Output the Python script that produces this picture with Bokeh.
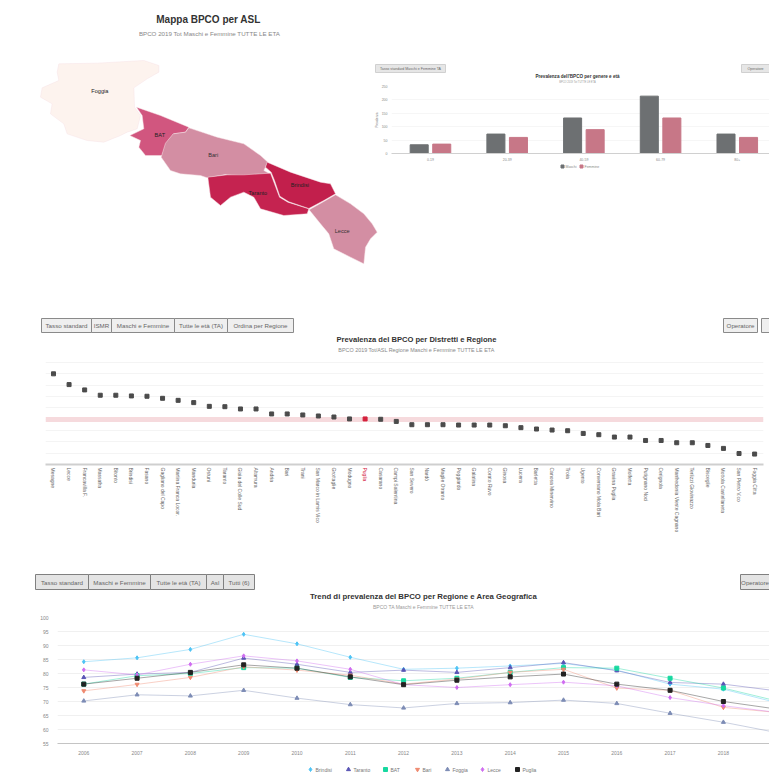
from math import pi
from bokeh.core.properties import value
from bokeh.embed import file_html
from bokeh.resources import INLINE
from bokeh.plotting import figure
from bokeh.layouts import column, row
from bokeh.models import (Range1d, FixedTicker, Span)

# ---- map data (map units, y grows downward in the source sketch) ----
asl_names = ["Foggia", "BAT", "Bari", "Taranto", "Brindisi", "Lecce"]
asl_colors = ["#fdf3ee", "#d1567f", "#d38ea3", "#c52350", "#c21f4c", "#d38ea3"]
foggia_x = [85,200,340,385,385,350,310,312,330,320,290,270,220,170,110,100,60,65,30,35,85,80]
foggia_y = [190,188,180,195,215,235,262,320,345,385,395,405,425,420,400,370,340,310,290,262,240,215]
bat_x = [318,390,475,465,430,410,395,345,325,330,298,340,335]
bat_y = [320,345,380,395,400,425,465,465,440,420,405,385,345]
bari_x = [475,560,640,690,712,700,722,650,585,530,510,450,420,392,405,428,465]
bari_y = [382,410,430,465,485,510,522,527,522,532,525,520,510,470,428,400,395]
taranto_x = [532,590,640,720,732,747,772,835,830,760,690,670,640,600,570,540]
taranto_y = [530,523,523,518,550,590,605,625,640,645,625,590,575,590,615,590]
brindisi_x = [710,780,870,900,915,880,835,775,748,732,722,705]
brindisi_y = [485,515,545,550,580,600,624,604,587,540,515,500]
lecce_x = [915,960,1000,1025,1040,1020,1005,1000,960,910,895,870,836,880]
lecce_y = [583,610,640,670,695,715,740,790,770,745,700,670,628,603]
asl_label_x = [208,388,548,682,808,935]
asl_label_y = [270,402,462,577,552,692]
asl_label_color = ["#222222","#222222","#333333","#222222","#222222","#333333"]

# ---- bars ----
age_groups = ["0-19", "20-39", "40-59", "60-79", "80+"]
bar_male = [32.5, 72.5, 132.5, 214, 72.5]
bar_female = [35, 60, 89, 132.5, 60]
bar_ticks = [0, 50, 100, 150, 200, 250]
bar_names = ["Maschi", "Femmine"]
bar_colors = ["#6d7072", "#c77787"]

# ---- districts ----
districts = ["Mesagne","Lecce","Francavilla F.","Massafra","Bitonto","Brindisi","Fasano","Gagliano del Capo",
 "Martina Franca Locor.","Manduria","Ostuni","Taranto","Gioia del Colle Sud","Altamura","Andria","Bari",
 "Trani","San Marco in Lamis Vico","Grottaglie","Modugno","Puglia","Casarano","Campi Salentina","San Severo",
 "Nardò","Maglie Otranto","Poggiardo","Galatina","Corato Ruvo","Ginosa","Lucera","Barletta","Canosa Minervino",
 "Troia","Ugento","Conversano Mola Bari","Gravina Puglia","Molfetta","Putignano Noci","Cerignola",
 "Manfredonia Vieste Cagnano","Terlizzi Giovinazzo","Bisceglie","Mottola Castellaneta","San Pietro V.co","Foggia Citta"]
district_values = [120.0,110.5,105.8,101.1,101.1,100.5,100.2,98.4,96.6,94.6,91.3,91.0,89.0,89.0,84.6,84.6,83.7,82.8,81.9,
 80.2,80.2,79.9,78.0,75.1,75.1,75.1,74.8,74.8,74.8,74.2,72.5,71.3,70.4,69.8,67.4,66.3,64.2,64.2,61.2,61.2,59.2,59.2,
 56.8,54.2,49.7,49.2]
puglia_value = 80.2
puglia_name = "Puglia"

# ---- trends ----
years = [2006,2007,2008,2009,2010,2011,2012,2013,2014,2015,2016,2017,2018,2019]
trend_ticks = [55,60,65,70,75,80,85,90,95,100]
brindisi = [84.2,85.6,88.6,94.0,90.6,85.8,81.5,81.9,82.7,83.6,81.2,76.2,74.4,69.6]
taranto = [78.6,79.8,80.4,85.5,83.3,80.4,81.2,80.4,82.1,83.9,81.0,76.8,76.2,73.8]
bat = [76.2,79.2,80.0,82.1,81.9,78.6,77.4,78.3,80.4,82.1,81.9,78.3,74.8,70.2]
bari = [73.8,76.1,78.6,82.4,81.2,79.4,76.2,78.0,80.4,81.5,74.8,74.0,67.9,66.1]
foggia = [70.2,72.4,72.0,74.0,71.2,68.9,67.7,69.3,69.6,70.5,69.3,65.8,62.6,58.9]
lecce = [81.3,79.5,83.3,86.3,84.5,81.5,76.0,75.0,76.0,76.9,75.6,71.4,68.5,66.1]
puglia = [76.2,78.3,80.4,83.1,81.9,78.8,76.0,77.6,78.8,79.8,76.2,74.0,70.0,67.3]
series_names = ["Brindisi","Taranto","BAT","Bari","Foggia","Lecce","Puglia"]
series_values = [brindisi,taranto,bat,bari,foggia,lecce,puglia]
series_colors = ["#4cc3f5","#5a55b5","#17d8a0","#ef8a70","#7d8cb5","#cf6cf0","#222222"]
series_markers = ["diamond","triangle","square","inverted_triangle","triangle","diamond","square"]

# ---- titles and buttons (page layout furniture) ----
titles = [
    (208, 19, "Mappa BPCO per ASL", 10, "#333333", "bold"),
    (209, 33, "BPCO 2019 Tot Maschi e Femmine TUTTE LE ETA", 6.2, "#888888", "normal"),
    (577, 76, "Prevalenza dell'BPCO per genere e età", 4.6, "#333333", "bold"),
    (577, 82, "BPCO 2019 Tot TUTTE LE ETA", 2.6, "#999999", "normal"),
    (416, 339, "Prevalenza del BPCO per Distretti e Regione", 7.6, "#333333", "bold"),
    (416, 349, "BPCO 2019 Tot/ASL Regione Maschi e Femmine TUTTE LE ETA", 5.4, "#888888", "normal"),
    (423, 596, "Trend di prevalenza del BPCO per Regione e Area Geografica", 7.8, "#333333", "bold"),
    (423, 606, "BPCO TA Maschi e Femmine TUTTE LE ETA", 5, "#999999", "normal"),
]
buttons = [
    (375, 445, 64, 72, "Tasso standard Maschi e Femmine TA", 3.6, "#e6e6e6", "#d0d0d0"),
    (741, 769, 64, 72, "Operatore", 3.6, "#e6e6e6", "#d0d0d0"),
    (41, 91, 318, 332, "Tasso standard", 6.2, "#efefef", "#8a8a8a"),
    (91, 111, 318, 332, "ISMR", 6.2, "#efefef", "#8a8a8a"),
    (111, 174, 318, 332, "Maschi e Femmine", 6.2, "#efefef", "#8a8a8a"),
    (174, 227, 318, 332, "Tutte le età (TA)", 6.2, "#efefef", "#8a8a8a"),
    (227, 293, 318, 332, "Ordina per Regione", 6.2, "#efefef", "#8a8a8a"),
    (723, 757, 318, 332, "Operatore", 6.2, "#efefef", "#8a8a8a"),
    (761, 769, 318, 332, "", 6.2, "#efefef", "#8a8a8a"),
    (35, 88, 574, 589, "Tasso standard", 6.2, "#e4e4e4", "#808080"),
    (88, 150, 574, 589, "Maschi e Femmine", 6.2, "#e4e4e4", "#808080"),
    (150, 206, 574, 589, "Tutte le età (TA)", 6.2, "#e4e4e4", "#808080"),
    (206, 223, 574, 589, "Asl", 6.2, "#e4e4e4", "#808080"),
    (223, 254, 574, 589, "Tutti (6)", 6.2, "#e4e4e4", "#808080"),
    (740, 769, 574, 589, "Operatore", 6.2, "#e4e4e4", "#808080"),
]
bar_legend_x = [562, 581]
bar_legend_y = 166
trend_legend_x = [310, 348, 385, 417, 447, 482, 517]
trend_legend_y = 769

FONT = "Liberation Sans"
COMMON = dict(output_backend="svg", toolbar_location=None, outline_line_color=None,
              background_fill_color=None, border_fill_color=None, frame_align=False)

# ---------------- Overlay of titles, buttons and legends, in page pixels ----------------
po = figure(width=769, height=776, x_range=Range1d(0, 769), y_range=Range1d(776, 0), min_border=0, **COMMON)
po.axis.visible = False
po.grid.visible = False
for t in titles:
    po.text([t[0]], [t[1]], text=[t[2]], text_font=value(FONT), text_font_size=f"{t[3]}px", text_color=t[4],
            text_font_style=t[5], text_align="center", text_baseline="middle")
po.quad(left=[b[0] for b in buttons], right=[b[1] for b in buttons],
        top=[b[2] for b in buttons], bottom=[b[3] for b in buttons],
        fill_color=[b[6] for b in buttons], line_color=[b[7] for b in buttons], line_width=1)
for b in buttons:
    po.text([(b[0] + b[1]) / 2], [(b[2] + b[3]) / 2], text=[b[4]], text_font=value(FONT),
            text_font_size=f"{b[5]}px", text_color="#666666", text_align="center", text_baseline="middle")
# red label of the regional dot, under its tick of the district axis
puglia_px = 53 + districts.index(puglia_name) * 15.578
po.text([puglia_px], [467], text=[puglia_name], text_font=value(FONT), text_font_size="5px",
        text_color="#d4213d", angle=-pi / 2, text_align="left", text_baseline="middle")
# legends
po.scatter(bar_legend_x, [bar_legend_y] * 2, marker="square", size=3, color=bar_colors)
po.text([x + 3 for x in bar_legend_x], [bar_legend_y] * 2, text=bar_names, text_font=value(FONT),
        text_font_size="3.5px", text_color="#888888", text_baseline="middle")
po.scatter(trend_legend_x, [trend_legend_y] * 7, marker=series_markers, size=4, color=series_colors)
po.text([x + 5 for x in trend_legend_x], [trend_legend_y] * 7, text=series_names, text_font=value(FONT),
        text_font_size="5px", text_color="#777777", text_baseline="middle")

# ---------------- Map ----------------
# map units = (page x - 30) * 3 and page y * 3
pm = figure(width=380, height=300, x_range=Range1d(-90, 1050), y_range=Range1d(900, 0), min_border=0, **COMMON)
pm.axis.visible = False
pm.grid.visible = False
pm.patches([foggia_x, bat_x, bari_x, taranto_x, brindisi_x, lecce_x],
           [foggia_y, bat_y, bari_y, taranto_y, brindisi_y, lecce_y],
           fill_color=asl_colors, line_color="#f7e3e6", line_width=0.5)
pm.text(asl_label_x, asl_label_y, text=asl_names, text_color=asl_label_color,
        text_font=value(FONT), text_font_size="5.6px", text_align="center", text_baseline="middle")

# ---------------- Bars ----------------
pb = figure(width=397, height=178, x_range=Range1d(-0.508, 4.42), y_range=Range1d(0, 250),
            min_border_left=19, min_border_right=0, min_border_top=86, min_border_bottom=25,
            margin=(0, 0, 0, -8), **COMMON)
pos = list(range(len(age_groups)))
pb.vbar([i - 0.147 for i in pos], top=bar_male, width=0.235, color=bar_colors[0])
pb.vbar([i + 0.147 for i in pos], top=bar_female, width=0.235, color=bar_colors[1])
pb.xgrid.visible = False
pb.ygrid.grid_line_color = "#f0f0f0"
pb.ygrid.grid_line_width = 0.6
pb.xaxis.ticker = FixedTicker(ticks=pos)
pb.xaxis.major_label_overrides = {i: c for i, c in enumerate(age_groups)}
pb.yaxis.ticker = FixedTicker(ticks=bar_ticks)
for ax in (pb.xaxis[0], pb.yaxis[0]):
    ax.major_tick_line_color = None
    ax.minor_tick_line_color = None
    ax.major_tick_out = 0
    ax.major_label_text_font = FONT
    ax.major_label_text_font_size = "3.5px"
    ax.major_label_text_color = "#888888"
    ax.major_label_standoff = 4
pb.yaxis.axis_line_color = None
pb.xaxis.axis_line_color = "#d0d0d0"
pb.yaxis.axis_label = "Prevalenza"
pb.yaxis.axis_label_text_font_size = "3px"
pb.yaxis.axis_label_text_font_style = "normal"
pb.yaxis.axis_label_text_color = "#888888"
pb.yaxis.axis_label_standoff = 0

# ---------------- Districts ----------------
pd_ = figure(width=769, height=265, x_range=Range1d(-0.513, 45.57), y_range=Range1d(40, 134.4),
             min_border_left=45, min_border_right=6, min_border_top=57, min_border_bottom=101, **COMMON)
idx = list(range(len(districts)))
pd_.add_layout(Span(location=puglia_value - 0.4, dimension="width", line_color="#f6dadd", line_width=5, level="underlay"))
colors = ["#d4213d" if n == puglia_name else "#4b4b4b" for n in districts]
pd_.scatter(idx, district_values, marker="square", size=4, color=colors)
pd_.xgrid.visible = False
pd_.ygrid.grid_line_color = "#f4f4f4"
pd_.ygrid.ticker = FixedTicker(ticks=[50,60,70,80,90,100,110,120,130])
pd_.yaxis.visible = False
pd_.xaxis.ticker = FixedTicker(ticks=idx)
pd_.xaxis.major_label_overrides = {i: ("" if n == puglia_name else n) for i, n in enumerate(districts)}
pd_.xaxis.major_label_orientation = -pi / 2
pd_.xaxis.major_tick_line_color = None
pd_.xaxis.minor_tick_line_color = None
pd_.xaxis.major_tick_out = 0
pd_.xaxis.axis_line_color = "#cfcfcf"
pd_.xaxis.axis_line_width = 2
pd_.xaxis.major_label_text_font = FONT
pd_.xaxis.major_label_text_font_size = "5px"
pd_.xaxis.major_label_text_color = "#666666"
pd_.xaxis.major_label_standoff = 3

# ---------------- Trends ----------------
pt = figure(width=769, height=211, x_range=Range1d(2005.507, 2018.865), y_range=Range1d(55, 100),
            min_border_left=57, min_border_right=0, min_border_top=52, min_border_bottom=33, **COMMON)
for name, vals, col, mk in zip(series_names, series_values, series_colors, series_markers):
    pt.line(years, vals, color=col, line_width=0.8, line_alpha=0.5)
    pt.scatter(years, vals, marker=mk, size=4, color=col)
pt.xgrid.visible = False
pt.ygrid.grid_line_color = "#f0f0f0"
pt.xaxis.ticker = FixedTicker(ticks=years)
pt.yaxis.ticker = FixedTicker(ticks=trend_ticks)
for ax in (pt.xaxis[0], pt.yaxis[0]):
    ax.major_tick_line_color = None
    ax.minor_tick_line_color = None
    ax.major_tick_out = 0
    ax.major_label_text_font = FONT
    ax.major_label_text_font_size = "5px"
    ax.major_label_text_color = "#888888"
pt.xaxis.formatter.use_scientific = False
pt.xaxis.major_label_standoff = 7
pt.yaxis.major_label_standoff = 9
pt.yaxis.axis_line_color = None
pt.xaxis.axis_line_color = "#c4c4c4"
pt.xaxis.axis_line_width = 1.2

main = column(row(pm, pb, spacing=0, height=300), pd_, pt, spacing=0, margin=(-776, 0, 0, 0))
layout = column(po, main, spacing=0)
open("out.html", "w").write(file_html(layout, INLINE))
